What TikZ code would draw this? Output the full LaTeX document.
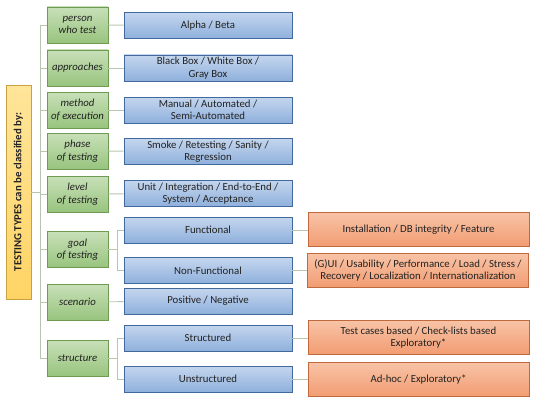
\documentclass[tikz,border=0pt]{standalone}
\usepackage{fontspec}
\setmainfont{Carlito}
\definecolor{rtop}{HTML}{FFE59A}
\definecolor{rbot}{HTML}{FFD465}
\definecolor{rdraw}{HTML}{C9A23F}
\definecolor{gtop}{HTML}{C8E0B8}
\definecolor{gbot}{HTML}{98C47E}
\definecolor{gdraw}{HTML}{6E9A52}
\definecolor{btop}{HTML}{C4D6EE}
\definecolor{bbot}{HTML}{8FB0DC}
\definecolor{bdraw}{HTML}{41699E}
\definecolor{otop}{HTML}{F8C3A6}
\definecolor{obot}{HTML}{F29C72}
\definecolor{odraw}{HTML}{C0683E}
\definecolor{lcol}{HTML}{B9C6AE}
\definecolor{txt}{HTML}{222222}
\begin{document}
\begin{tikzpicture}[x=1pt,y=-1pt,
  box/.style={draw, line width=0.8pt, align=center, inner sep=0.5pt, text=txt, font=\fontsize{10.8}{12.5}\selectfont},
  rootbox/.style={box, draw=rdraw, top color=rtop, bottom color=rbot, minimum width=25, minimum height=214, font=\fontsize{10.8}{12.5}\selectfont\bfseries},
  gbox/.style={box, draw=gdraw, top color=gtop, bottom color=gbot, minimum width=61, minimum height=36, font=\fontsize{10.8}{12.5}\selectfont\itshape},
  bbox/.style={box, draw=bdraw, top color=btop, bottom color=bbot, minimum width=168, minimum height=26},
  obox/.style={box, draw=odraw, top color=otop, bottom color=obot, minimum width=221, minimum height=34},
  conn/.style={draw=lcol, line width=0.9pt}]
\useasboundingbox (0,0) rectangle (540,404);
% root
\node[rootbox] (root) at (18.5,192) {\rotatebox{90}{TESTING TYPES can be classified by:}};
% green
\node[gbox] (g1) at (77.5,25) {person\\who test};
\node[gbox] (g2) at (77.5,68) {approaches};
\node[gbox] (g3) at (77.5,110) {method\\of execution};
\node[gbox] (g4) at (77.5,151) {phase\\of testing};
\node[gbox] (g5) at (77.5,194) {level\\of testing};
\node[gbox] (g6) at (77.5,249.5) {goal\\of testing};
\node[gbox] (g7) at (77.5,302) {scenario};
\node[gbox] (g8) at (77.5,358) {structure};
% blue
\node[bbox] (b1) at (208,25.5) {Alpha / Beta};
\node[bbox] (b2) at (208,68) {Black Box / White Box /\\Gray Box};
\node[bbox] (b3) at (208,110) {Manual / Automated /\\Semi-Automated};
\node[bbox] (b4) at (208,151.5) {Smoke / Retesting / Sanity /\\Regression};
\node[bbox] (b5) at (208,193.5) {Unit / Integration / End-to-End /\\System / Acceptance};
\node[bbox] (b6) at (208,230) {Functional};
\node[bbox] (b7) at (208,270.5) {Non-Functional};
\node[bbox] (b8) at (208,301) {Positive / Negative};
\node[bbox] (b9) at (208,338) {Structured};
\node[bbox] (b10) at (208,379) {Unstructured};
% orange
\node[obox] (o1) at (418.5,229.5) {Installation / DB integrity / Feature};
\node[obox] (o2) at (418,270.5) {(G)UI / Usability / Performance / Load / Stress /\\Recovery / Localization / Internationalization};
\node[obox] (o3) at (418.5,337.5) {Test cases based / Check-lists based\\Exploratory*};
\node[obox] (o4) at (418.5,379.5) {Ad-hoc / Exploratory*};
% connectors
\coordinate (tr) at (40,0);
\coordinate (br) at (117,0);
\draw[conn] (root.east) -- (root.east -| tr);
\draw[conn] (g1.west -| tr) -- (g8.west -| tr);
\foreach \g in {g1,g2,g3,g4,g5,g6,g7,g8} \draw[conn] (\g.west -| tr) -- (\g.west);
\draw[conn] (g1) -- (b1);
\draw[conn] (g2) -- (b2);
\draw[conn] (g3) -- (b3);
\draw[conn] (g4) -- (b4);
\draw[conn] (g5) -- (b5);
\draw[conn] (g7) -- (b8);
\draw[conn] (g6.east) -- (g6.east -| br);
\draw[conn] (b6.west -| br) -- (b7.west -| br);
\draw[conn] (b6.west) -- (b6.west -| br);
\draw[conn] (b7.west) -- (b7.west -| br);
\draw[conn] (g8.east) -- (g8.east -| br);
\draw[conn] (b9.west -| br) -- (b10.west -| br);
\draw[conn] (b9.west) -- (b9.west -| br);
\draw[conn] (b10.west) -- (b10.west -| br);
\draw[conn] (b6.east) -- (b6.east -| o1.west);
\draw[conn] (b7.east) -- (b7.east -| o2.west);
\draw[conn] (b9.east) -- (b9.east -| o3.west);
\draw[conn] (b10.east) -- (b10.east -| o4.west);
\end{tikzpicture}
\end{document}
